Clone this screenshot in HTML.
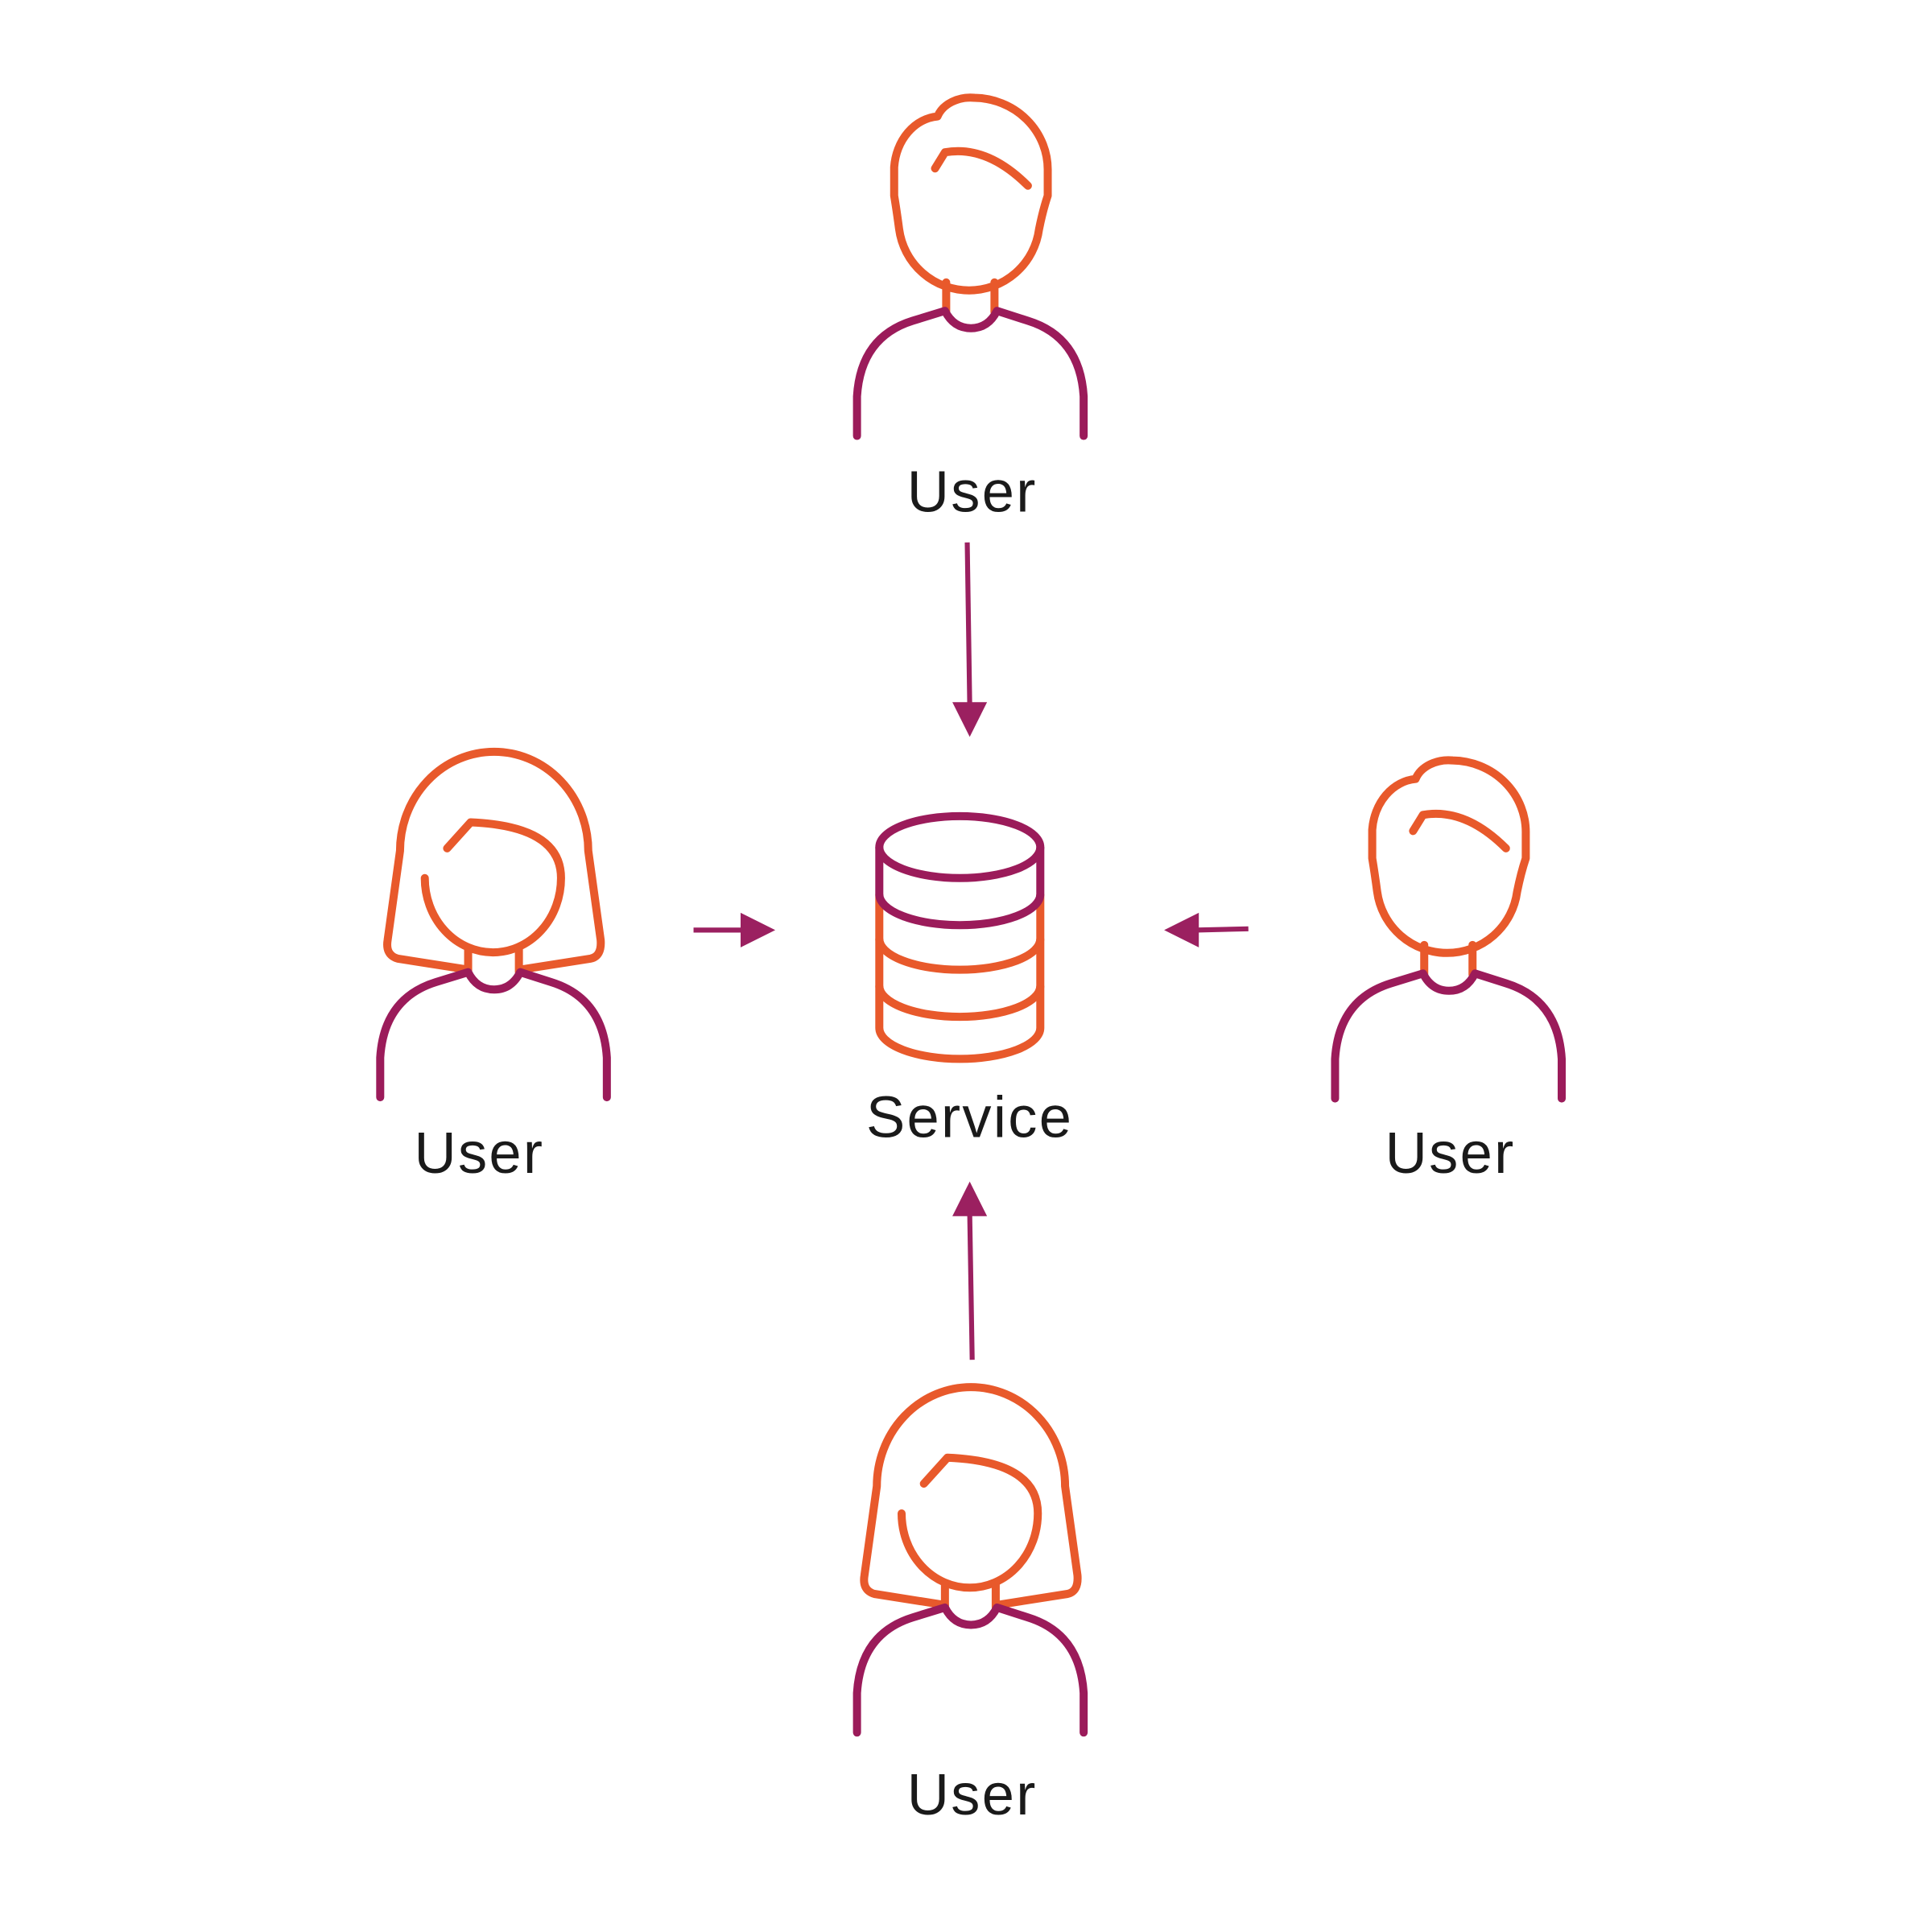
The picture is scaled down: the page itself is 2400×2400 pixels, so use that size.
<!DOCTYPE html>
<html><head><meta charset="utf-8"><style>
html,body{margin:0;padding:0;background:#fff;width:2400px;height:2400px;overflow:hidden}
svg{display:block}
text{font-family:"Liberation Sans",sans-serif;font-weight:300;font-size:47px;fill:#1a1a1a;text-anchor:middle;letter-spacing:1.5px}
</style></head><body>
<svg width="2400" height="2400" viewBox="0 0 1560 1560" xmlns="http://www.w3.org/2000/svg">
<defs>
<g id="male" fill="none" stroke-width="6.5" stroke-linecap="round" stroke-linejoin="round">
 <path stroke="#E8592B" d="M722,158 L722,135 A38,45 0 0 1 757,94 A28,22 0 0 1 787,79 A60,58 0 0 1 846,138 L846,158 Q842,170 839,185 A57,57 0 0 1 726,185 Q724,170 722,158 Z"/>
 <path stroke="#E8592B" d="M755,136 L763,123 Q797,117 830,150"/>
 <path stroke="#E8592B" d="M764,228 L764,252 M803,228 L803,252"/>
 <path stroke="#9B1B5A" d="M692,352 L692,320 Q695,272 737,259 L763,251 Q770,265 784,265 Q798,265 805,251 L830,259 Q872,272 875,320 L875,352"/>
</g>
<g id="female" fill="none" stroke-width="6.5" stroke-linecap="round" stroke-linejoin="round">
 <path stroke="#E8592B" d="M763,1296 L706,1287 Q696,1284 698,1272 L708,1200 A76,80 0 0 1 860,1200 L870,1272 Q871,1285 862,1287 L805,1296"/>
 <path stroke="#E8592B" d="M728,1222 A55,60 0 0 0 838,1222 Q838,1180 765,1177 L746,1198"/>
 <path stroke="#E8592B" d="M763,1278 L763,1298 M804,1278 L804,1298"/>
 <path stroke="#9B1B5A" d="M692,1399 L692,1367 Q695,1319 737,1306 L763,1298 Q770,1312 784,1312 Q798,1312 805,1298 L830,1306 Q872,1319 875,1367 L875,1399"/>
</g>
</defs>
<use href="#male"/>
<use href="#male" transform="translate(386,535)"/>
<use href="#female"/>
<use href="#female" transform="translate(-385,-513)"/>
<text x="785" y="413">User</text>
<text x="387" y="947">User</text>
<text x="1171" y="947">User</text>
<text x="785" y="1465">User</text>
<text x="783" y="918">Service</text>
<g fill="none" stroke-width="6.5">
 <path stroke="#E8592B" d="M710,722 L710,830 A65,25 0 0 0 840,830 L840,722"/>
 <path stroke="#E8592B" d="M710,758 A65,25 0 0 0 840,758 M710,796 A65,25 0 0 0 840,796"/>
 <path stroke="#9B1B5A" d="M710,684 L710,722 A65,25 0 0 0 840,722 L840,684"/>
 <ellipse cx="775" cy="684" rx="65" ry="25" stroke="#9B1B5A"/>
</g>
<g stroke="#9B2060" stroke-width="4" fill="#9B2060">
 <line x1="781" y1="438" x2="783" y2="569"/>
 <polygon stroke="none" points="769,567 797,567 783,595"/>
 <line x1="560" y1="751" x2="600" y2="751"/>
 <polygon stroke="none" points="598,737 598,765 626,751"/>
 <line x1="1008" y1="750" x2="966" y2="751"/>
 <polygon stroke="none" points="968,737 968,765 940,751"/>
 <line x1="785" y1="1098" x2="783" y2="980"/>
 <polygon stroke="none" points="769,982 797,982 783,954"/>
</g>
</svg>
</body></html>
